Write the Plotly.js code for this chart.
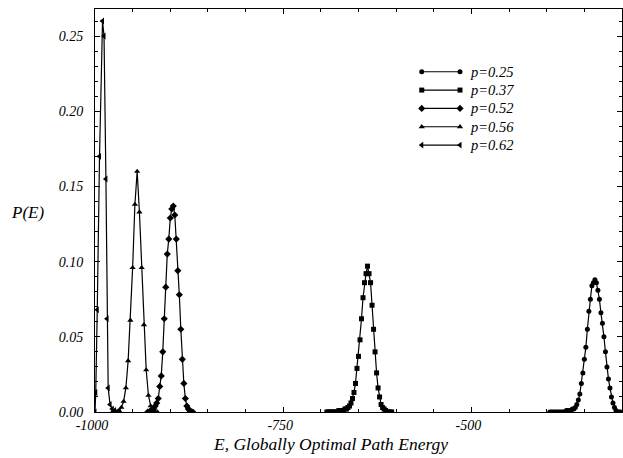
<!DOCTYPE html>
<html>
<head>
<meta charset="utf-8">
<script src="https://cdn.plot.ly/plotly-3.0.1.min.js"></script>
<style>html,body{margin:0;padding:0;background:#fff;}#chart{width:623px;height:458px;}</style>
</head>
<body>
<div id="chart"></div>
<script>
// ---- data ----
const seriesNames = ['p=0.25', 'p=0.37', 'p=0.52', 'p=0.56', 'p=0.62'];

const E_p025 = [-396,-394,-392,-390,-388,-386,-384,-382,-380,-378,-376,-374,-372,-370,-368,-366,-364,-362,-360,-358,-356,-354,-352,-350,-348,-346,-344,-342,-340,-338,-336,-334,-332,-330,-328,-326,-324,-322,-320,-318,-316,-314,-312,-310,-308,-306,-304,-302];
const P_p025 = [0.000,0.000,0.000,0.000,0.000,0.000,0.000,0.000,0.000,0.000,0.000,0.001,0.001,0.001,0.001,0.002,0.002,0.003,0.005,0.008,0.012,0.019,0.026,0.035,0.043,0.055,0.067,0.075,0.084,0.086,0.088,0.086,0.081,0.075,0.066,0.059,0.050,0.040,0.030,0.022,0.016,0.010,0.006,0.003,0.001,0.000,0.000,0.000];

const E_p037 = [-692,-690,-688,-686,-684,-682,-680,-678,-676,-674,-672,-670,-668,-666,-664,-662,-660,-658,-656,-654,-652,-650,-648,-646,-644,-642,-640,-638,-636,-634,-632,-630,-628,-626,-624,-622,-620,-618,-616,-614,-612,-610,-608,-606];
const P_p037 = [0.000,0.000,0.000,0.000,0.000,0.000,0.000,0.000,0.001,0.001,0.001,0.001,0.002,0.002,0.003,0.004,0.006,0.009,0.013,0.019,0.029,0.037,0.048,0.062,0.076,0.086,0.092,0.097,0.092,0.086,0.071,0.055,0.040,0.026,0.016,0.010,0.005,0.003,0.002,0.001,0.000,0.000,0.000,0.000];

const E_p052 = [-930,-928,-926,-924,-922,-920,-918,-916,-914,-912,-910,-908,-906,-904,-902,-900,-898,-896,-894,-892,-890,-888,-886,-884,-882,-880,-878,-876,-874,-872,-870];
const P_p052 = [0.000,0.000,0.001,0.001,0.002,0.004,0.006,0.009,0.017,0.024,0.040,0.062,0.083,0.105,0.115,0.129,0.135,0.137,0.131,0.115,0.094,0.078,0.055,0.035,0.019,0.009,0.004,0.002,0.001,0.000,0.000];

const E_p056 = [-977,-974,-971,-968,-965,-962,-959,-956,-953,-950,-947,-944,-941,-938,-935,-932,-929,-926,-923,-920,-917];
const P_p056 = [0.000,0.000,0.000,0.001,0.003,0.007,0.016,0.034,0.061,0.096,0.138,0.160,0.133,0.096,0.058,0.028,0.011,0.004,0.001,0.000,0.000];

const E_p062 = [-1000,-999,-997,-994,-990,-988,-985.5,-984,-982.5,-980,-977,-974,-971,-968];
const P_p062 = [0.000,0.013,0.068,0.170,0.260,0.250,0.155,0.062,0.016,0.005,0.002,0.001,0.000,0.000];

const xTickVals = [-1000, -750, -500];
const xTickText = ['-1000', '-750', '-500'];
const yTickVals = [0, 0.05, 0.10, 0.15, 0.20, 0.25];
const yTickText = ['0.00', '0.05', '0.10', '0.15', '0.20', '0.25'];

const xTitle = 'E, Globally Optimal Path Energy';
const yTitle = 'P(E)';

// ---- styling ----
const FONT = 'Liberation Serif, Times New Roman, serif';
const symbols = ['circle', 'square', 'diamond', 'triangle-up', 'triangle-left'];
const msize = [5, 5, 5.5, 5.5, 6];
const Xs = [E_p025, E_p037, E_p052, E_p056, E_p062];
const Ys = [P_p025, P_p037, P_p052, P_p056, P_p062];

const traces = [];
for (let i = 0; i < seriesNames.length; i++) {
  traces.push({
    type: 'scatter', mode: 'lines+markers', name: seriesNames[i],
    x: Xs[i], y: Ys[i],
    line: {color: '#000', width: 1.2},
    marker: {symbol: symbols[i], size: msize[i], color: '#000'},
    showlegend: false, hoverinfo: 'skip'
  });
}

// legend drawn inside plot (samples with markers at both ends)
const legX0 = 0.620, legX1 = 0.6926, legTextX = 0.708;
const legRowTop = 0.8443, legRowStep = 0.0455;
const annotations = [];
for (let i = 0; i < seriesNames.length; i++) {
  const yy = legRowTop - i * legRowStep;
  traces.push({
    type: 'scatter', mode: 'lines+markers', xaxis: 'x2', yaxis: 'y2',
    x: [legX0, legX1], y: [yy, yy],
    line: {color: '#000', width: 1.2},
    marker: {symbol: symbols[i], size: msize[i], color: '#000'},
    showlegend: false, hoverinfo: 'skip'
  });
  annotations.push({
    xref: 'paper', yref: 'paper', x: legTextX, y: yy, xanchor: 'left', yanchor: 'middle',
    text: seriesNames[i], showarrow: false,
    font: {family: FONT, size: 14.5, color: '#000', style: 'italic'}
  });
}
annotations.push({
  xref: 'paper', yref: 'paper', x: 0.446, y: -0.079, xanchor: 'center', yanchor: 'middle',
  text: xTitle, showarrow: false, font: {family: FONT, size: 17.5, color: '#000', style: 'italic'}
});
annotations.push({
  xref: 'paper', yref: 'paper', x: -0.129, y: 0.496, xanchor: 'center', yanchor: 'middle',
  text: yTitle, showarrow: false, font: {family: FONT, size: 17, color: '#000', style: 'italic'}
});

const tickFont = {family: FONT, size: 14, color: '#000', style: 'italic'};
const layout = {
  width: 623, height: 458,
  margin: {l: 95, r: 1, t: 9, b: 46, pad: 0},
  paper_bgcolor: '#fff', plot_bgcolor: '#fff',
  showlegend: false,
  xaxis: {
    range: [-1000, -300], showgrid: false, zeroline: false,
    showline: true, linecolor: '#000', linewidth: 1, mirror: 'allticks',
    ticks: 'inside', ticklen: 5, tickcolor: '#000', tickwidth: 1,
    tickmode: 'array', tickvals: xTickVals, ticktext: xTickText,
    tickfont: tickFont, ticklabelstandoff: 0, ticklabelshift: -3,
    minor: {dtick: 50, tick0: -1000, ticks: 'inside', ticklen: 3, tickcolor: '#000', showgrid: false}
  },
  yaxis: {
    range: [0, 0.268], showgrid: false, zeroline: false,
    showline: true, linecolor: '#000', linewidth: 1, mirror: 'allticks',
    ticks: 'inside', ticklen: 5, tickcolor: '#000', tickwidth: 1,
    tickmode: 'array', tickvals: yTickVals, ticktext: yTickText,
    tickfont: tickFont, ticklabelstandoff: 8,
    minor: {dtick: 0.01, tick0: 0, ticks: 'inside', ticklen: 3, tickcolor: '#000', showgrid: false}
  },
  xaxis2: {overlaying: 'x', anchor: 'y2', range: [0, 1], visible: false, fixedrange: true},
  yaxis2: {overlaying: 'y', anchor: 'x2', range: [0, 1], visible: false, fixedrange: true},
  annotations: annotations
};

Plotly.newPlot('chart', traces, layout, {staticPlot: true, displayModeBar: false});
</script>
</body>
</html>
